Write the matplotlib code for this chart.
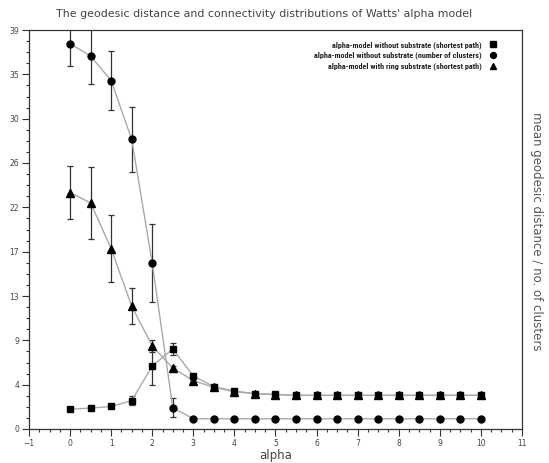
import matplotlib
matplotlib.use("Agg")
import matplotlib.pyplot as plt
import numpy as np
from matplotlib.ticker import MultipleLocator, FixedLocator
from matplotlib import font_manager

alpha = [0, 0.5, 1, 1.5, 2, 2.5, 3, 3.5, 4, 4.5, 5, 5.5, 6, 6.5, 7, 7.5, 8, 8.5, 9, 9.5, 10]

sq_y = [1.92, 2.05, 2.2, 2.77, 6.16, 7.82, 5.18, 4.14, 3.71, 3.45, 3.39, 3.29, 3.29, 3.29, 3.29, 3.29, 3.29, 3.29, 3.29, 3.29, 3.29]
sq_e = [0.05, 0.05, 0.08, 0.47, 1.83, 0.55, 0.15, 0.1, 0.08, 0.06, 0.05, 0.05, 0.05, 0.05, 0.05, 0.05, 0.05, 0.05, 0.05, 0.05, 0.05]

ci_y = [37.66, 36.46, 34.05, 28.3, 16.2, 2.08, 1.0, 1.0, 1.0, 1.0, 1.0, 1.0, 1.0, 1.0, 1.0, 1.0, 1.0, 1.0, 1.0, 1.0, 1.0]
ci_e = [2.2, 2.75, 2.9, 3.15, 3.8, 0.95, 0.02, 0.02, 0.02, 0.02, 0.02, 0.02, 0.02, 0.02, 0.02, 0.02, 0.02, 0.02, 0.02, 0.02, 0.02]

tr_y = [23.1, 22.1, 17.63, 12.0, 8.11, 5.96, 4.73, 4.07, 3.65, 3.45, 3.36, 3.29, 3.29, 3.29, 3.29, 3.29, 3.29, 3.29, 3.29, 3.29, 3.29]
tr_e = [2.6, 3.55, 3.3, 1.75, 0.6, 0.15, 0.1, 0.08, 0.06, 0.05, 0.05, 0.05, 0.05, 0.05, 0.05, 0.05, 0.05, 0.05, 0.05, 0.05, 0.05]

labels = ["alpha-model without substrate (shortest path)",
          "alpha-model without substrate (number of clusters)",
          "alpha-model with ring substrate (shortest path)"]

ytick_vals = list(np.linspace(0, 39, 10))
ytick_labels = ["0", "4", "9", "13", "17", "22", "26", "30", "35", "39"]
xtick_vals = list(range(-1, 12))

names = {f.name for f in font_manager.fontManager.ttflist}
if "Liberation Sans Narrow" in names:
    leg_prop = {"family": "Liberation Sans Narrow", "weight": "bold", "size": 6.2}
elif "Roboto Condensed" in names:
    leg_prop = {"family": "Roboto Condensed", "weight": "bold", "size": 5.85}
else:
    leg_prop = {"family": "Liberation Sans", "weight": "bold", "size": 4.9}

fig = plt.figure(figsize=(5.49, 4.63), dpi=100)
ax = fig.add_axes([29/549, 34/463, (522-29)/549, (429-30)/463])

series = [(sq_y, sq_e, "s", 4.6), (ci_y, ci_e, "o", 5.0), (tr_y, tr_e, "^", 5.5)]
handles = []
for (y, e, m, ms), lab in zip(series, labels):
    ax.errorbar(alpha, y, yerr=e, fmt="none", ecolor="#333333", elinewidth=0.9,
                capsize=2.3, capthick=0.9, zorder=2)
    ax.plot(alpha, y, color="#aaaaaa", lw=1.0, zorder=3)
    h, = ax.plot(alpha, y, linestyle="none", marker=m, color="black",
                 markersize=ms, zorder=4, label=lab)
    handles.append(h)

ax.set_xlim(-1, 11)
ax.set_ylim(0, 39)
ax.xaxis.set_major_locator(FixedLocator(xtick_vals))
ax.xaxis.set_minor_locator(MultipleLocator(0.25))
ax.set_yticks(ytick_vals)
ax.set_yticklabels(ytick_labels)
ax.yaxis.set_minor_locator(MultipleLocator(39/9/4))
ax.tick_params(which="both", direction="out", top=False, right=False,
               colors="#333333", labelcolor="#444444", labelsize=5.5, width=0.8)
ax.tick_params(which="major", length=5, pad=2)
ax.tick_params(which="minor", length=2.5)
for s in ax.spines.values():
    s.set_color("#333333")
    s.set_linewidth(0.9)

fig.text(264/549, 1 - 14/463, "The geodesic distance and connectivity distributions of Watts' alpha model",
         ha="center", va="center", fontsize=7.9, color="#444444")
fig.text((29+522)/2/549, 1 - 456/463, "alpha", ha="center", va="center",
         fontsize=8.5, color="#444444")
fig.text(537/549, 0.5, "mean geodesic distance / no. of clusters", ha="center", va="center",
         rotation=270, fontsize=8.5, color="#555555")

leg = ax.legend(handles=handles, loc="upper right", markerfirst=False, frameon=False,
                prop=leg_prop, handlelength=0.8, handletextpad=0.9, labelspacing=0.4,
                bbox_to_anchor=(0.957, 0.985), markerscale=0.85, borderaxespad=0.2)
for t in leg.get_texts():
    t.set_color("#222222")

fig.savefig("out.png", dpi=100)
